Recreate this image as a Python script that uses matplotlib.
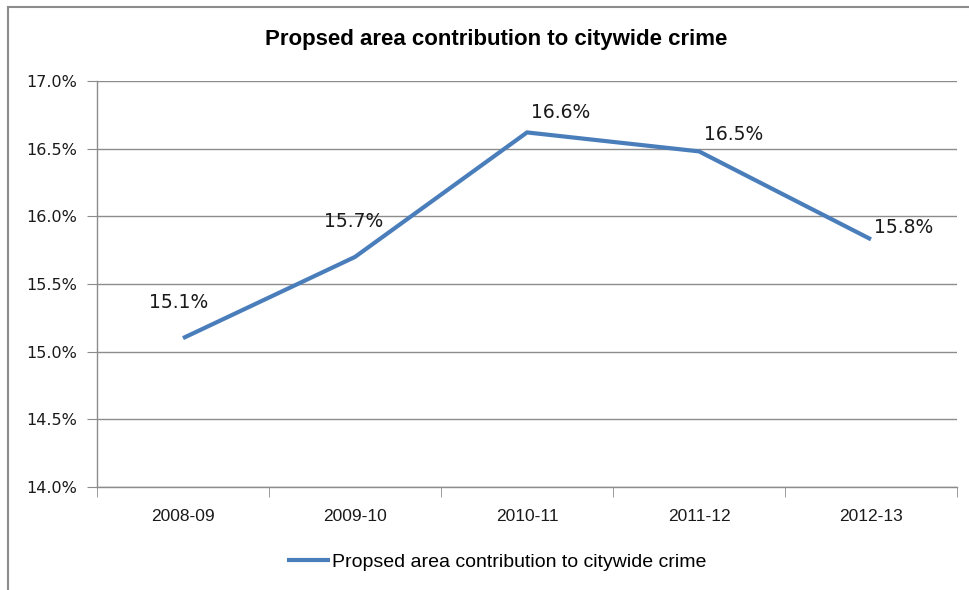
import matplotlib
matplotlib.use("Agg")
import matplotlib.pyplot as plt
from matplotlib.lines import Line2D
from matplotlib.ticker import FixedLocator, PercentFormatter

years = ["2008-09", "2009-10", "2010-11", "2011-12", "2012-13"]
share = [15.10, 15.70, 16.62, 16.48, 15.83]
labels = ["15.1%", "15.7%", "16.6%", "16.5%", "15.8%"]
# label offsets in pixels (dx, dy) relative to each point
offsets = [(-4, 36), (-1, 35), (34, 20), (35, 17), (33, 12)]

series_name = "Propsed area contribution to citywide crime"
line_color = "#4a7ebb"
grid_color = "#8c8c8c"
text_color = "#1a1a1a"

plt.rcParams["font.family"] = ["Liberation Sans", "DejaVu Sans"]

fig = plt.figure(figsize=(9.7, 5.9), dpi=100)
ax = fig.add_axes([97 / 970, 103 / 590, 860 / 970, 406 / 590])

x = list(range(len(years)))
ax.plot(x, share, color=line_color, lw=3, solid_capstyle="butt", solid_joinstyle="miter",
        label=series_name, zorder=3)
for xi, yi, lab, (dx, dy) in zip(x, share, labels, offsets):
    ax.annotate(lab, xy=(xi, yi), xytext=(dx, dy), textcoords="offset pixels",
                ha="center", va="center", fontsize=13.5, color=text_color,
                family="DejaVu Sans")

ax.set_xlim(-0.5, len(years) - 0.5)
ax.set_ylim(14.0, 17.0)
ax.set_yticks([14.0, 14.5, 15.0, 15.5, 16.0, 16.5, 17.0])
ax.yaxis.set_major_formatter(PercentFormatter(decimals=1))
ax.grid(axis="y", color=grid_color, lw=1)
ax.set_axisbelow(True)

ax.set_xticks(x)
ax.set_xticklabels(years)
ax.xaxis.set_minor_locator(FixedLocator([i - 0.5 for i in range(len(years) + 1)]))
ax.tick_params(axis="x", which="major", length=0, pad=16, labelsize=12.5, colors=text_color)
ax.tick_params(axis="x", which="minor", length=7, color=grid_color, direction="out")
ax.tick_params(axis="y", length=7, color=grid_color, direction="out", pad=7,
               labelsize=11.5, labelcolor=text_color)
for t in ax.get_yticklabels():
    t.set_family("DejaVu Sans")

for side in ("top", "right"):
    ax.spines[side].set_visible(False)
for side in ("left", "bottom"):
    ax.spines[side].set_color(grid_color)
    ax.spines[side].set_linewidth(1)

fig.text(496 / 970, 1 - 40 / 590, "Propsed area contribution to citywide crime",
         ha="center", va="center", fontsize=16, fontweight="bold")

leg = ax.legend(loc="center", bbox_to_anchor=(497 / 970, 1 - 562 / 590),
                bbox_transform=fig.transFigure, frameon=False, fontsize=14,
                handlelength=2.2, handletextpad=0.1)

# outer chart frame (only the left and top edges are in view)
fig.add_artist(Line2D([8 / 970, 8 / 970], [0, 1 - 7 / 590], color=grid_color, lw=1.5))
fig.add_artist(Line2D([8 / 970, 1], [1 - 7 / 590, 1 - 7 / 590], color=grid_color, lw=1.5))

fig.savefig("out.png", dpi=100)
